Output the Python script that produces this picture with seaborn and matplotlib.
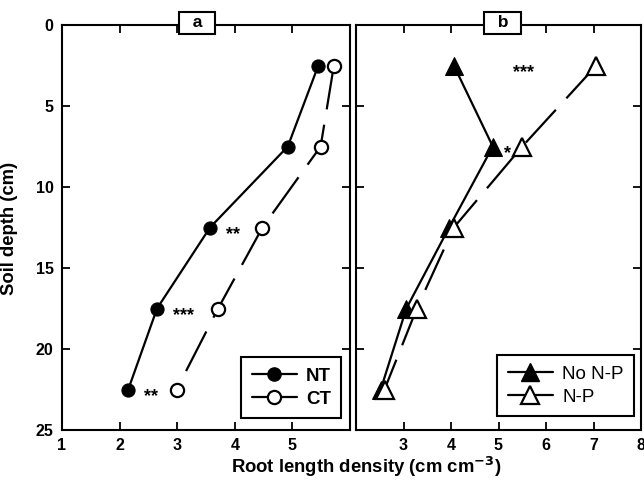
import matplotlib
matplotlib.use("Agg")
import matplotlib.pyplot as plt
from matplotlib.lines import Line2D
import seaborn as sns
import pandas as pd

# Soil depth mid-points (cm)
depth = [2.5, 7.5, 12.5, 17.5, 22.5]

# Panel a: tillage
nt_rld = [5.45, 4.92, 3.57, 2.65, 2.15]
ct_rld = [5.72, 5.49, 4.48, 3.71, 2.99]
a_stars = ["", "", "**", "***", "**"]

# Panel b: nitrogen-phosphorus
nonp_rld = [4.06, 4.88, 3.96, 3.06, 2.52]
np_rld = [7.06, 5.50, 4.06, 3.28, 2.60]
b_stars = ["***", "*", "", "", ""]
b_star_x = [5.52, 5.2]

sns.set_theme(style="ticks")
plt.rcParams["font.family"] = ["Liberation Sans", "DejaVu Sans"]
plt.rcParams["font.weight"] = "bold"
plt.rcParams["mathtext.default"] = "bf"
plt.rcParams["text.color"] = "black"
plt.rcParams["axes.labelcolor"] = "black"

fig = plt.figure(figsize=(6.44, 4.82), dpi=100)
ax_a = fig.add_axes([62 / 644, 1 - 430 / 482, 288 / 644, 405 / 482])
ax_b = fig.add_axes([356 / 644, 1 - 430 / 482, 285 / 644, 405 / 482])

dash = (0, (20, 7))
lw = 1.6

df_a = pd.DataFrame({"depth": depth, "NT": nt_rld, "CT": ct_rld})
df_b = pd.DataFrame({"depth": depth, "NoNP": nonp_rld, "NP": np_rld})

sns.lineplot(data=df_a, x="NT", y="depth", orient="y", sort=False, estimator=None,
             ax=ax_a, color="black", lw=lw, marker="o", markersize=9.5,
             markerfacecolor="black", markeredgecolor="black")
sns.lineplot(data=df_a, x="CT", y="depth", orient="y", sort=False, estimator=None,
             ax=ax_a, color="black", lw=lw, linestyle=dash, marker="o", markersize=9.5,
             markerfacecolor="white", markeredgecolor="black", markeredgewidth=1.6)

sns.lineplot(data=df_b, x="NoNP", y="depth", orient="y", sort=False, estimator=None,
             ax=ax_b, color="black", lw=lw, marker="^", markersize=12.5,
             markerfacecolor="black", markeredgecolor="black")
sns.lineplot(data=df_b, x="NP", y="depth", orient="y", sort=False, estimator=None,
             ax=ax_b, color="black", lw=lw, linestyle=dash, marker="^", markersize=12.5,
             markerfacecolor="white", markeredgecolor="black", markeredgewidth=1.6)

# Significance marks beside the points
for d, x, s in zip(depth, nt_rld, a_stars):
    if s:
        ax_a.text(x + 0.27, d + 0.45, s, ha="left", va="center", fontsize=13,
                  fontweight="bold", color="black")
for d, x, s in zip(depth, b_star_x, b_stars):
    if s:
        ax_b.text(x, d + 0.45, s, ha="center", va="center", fontsize=13,
                  fontweight="bold", color="black")

for ax, xlim, xticks in [(ax_a, (1, 6), [1, 2, 3, 4, 5]),
                         (ax_b, (2, 8), [3, 4, 5, 6, 7, 8])]:
    ax.set_xlim(*xlim)
    ax.set_ylim(25, 0)
    ax.set_xticks(xticks)
    ax.set_yticks([0, 5, 10, 15, 20, 25])
    ax.set_xlabel("")
    ax.set_ylabel("")
    for sp in ax.spines.values():
        sp.set_visible(True)
        sp.set_linewidth(1.5)
        sp.set_color("black")
    ax.tick_params(direction="in", length=6, width=1.3, top=True, right=True,
                   colors="black", labelsize=11.5, pad=6)

ax_b.tick_params(labelleft=False)
for lab in ax_b.get_xticklabels():
    lab.set_clip_on(False)

# Panel tags sitting on the top frame
for ax, tag, xpos in [(ax_a, "a", 0.47), (ax_b, "b", 0.515)]:
    ax.text(xpos, 1.006, f"  {tag}  ", transform=ax.transAxes, ha="center",
            va="center", fontsize=12.5, fontweight="bold", color="black", zorder=10,
            bbox=dict(boxstyle="square,pad=0.2", fc="white", ec="black", lw=1.5))

# Legends
h_a = [Line2D([], [], color="black", lw=lw, marker="o", markersize=9.5,
              markerfacecolor="black", label="NT"),
       Line2D([], [], color="black", lw=lw, marker="o", markersize=9.5,
              markerfacecolor="white", markeredgewidth=1.6, label="CT")]
h_b = [Line2D([], [], color="black", lw=lw, marker="^", markersize=12.5,
              markerfacecolor="black", label="No N-P"),
       Line2D([], [], color="black", lw=lw, marker="^", markersize=12.5,
              markerfacecolor="white", markeredgewidth=1.6, label="N-P")]
for ax, h, weight, anchor in [(ax_a, h_a, "bold", (0.97, 0.03)),
                              (ax_b, h_b, "normal", (0.975, 0.035))]:
    leg = ax.legend(handles=h, loc="lower right", frameon=True,
                    prop=dict(size=13.5, weight=weight), labelcolor="black",
                    fancybox=False, edgecolor="black", framealpha=1,
                    handlelength=2.4, handletextpad=0.5, labelspacing=0.3,
                    borderpad=0.55, borderaxespad=0, bbox_to_anchor=anchor)
    leg.get_frame().set_linewidth(1.5)

fig.text(10 / 644, 1 - 228 / 482, "Soil depth (cm)", rotation=90, ha="center",
         va="center", fontsize=13.3, fontweight="bold", color="black")
fig.text(366 / 644, 1 - 467 / 482, "Root length density (cm cm$^{-3}$)",
         ha="center", va="center", fontsize=13.3, fontweight="bold", color="black")

fig.savefig("out.png", dpi=100)
